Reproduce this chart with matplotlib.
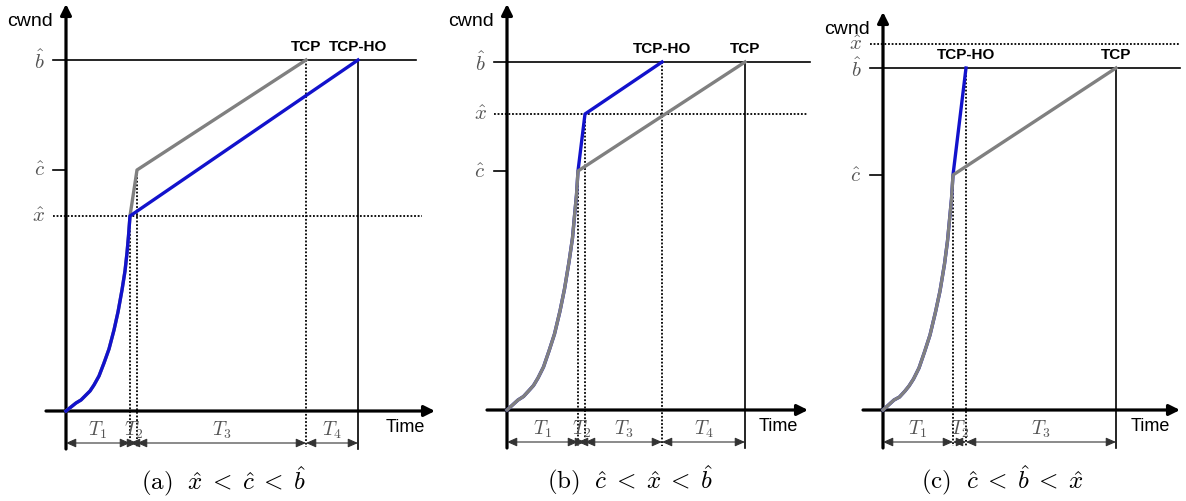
import matplotlib
matplotlib.use('Agg')
import matplotlib.pyplot as plt

plt.rcParams['mathtext.fontset'] = 'cm'
plt.rcParams['font.family'] = ['Liberation Sans', 'DejaVu Sans']

# window sizes (cwnd) and times for the three cases, same units in every panel
# (a) x < c < b
a_b, a_c, a_x = 351, 241, 195
a_ss_t = [0, 5, 10, 15, 20, 24, 28, 33, 38, 43, 48, 52, 56, 59, 61, 62.5, 64]
a_ss_w = [0, 4, 8, 11, 16, 20, 26, 35, 48, 62, 81, 99, 121, 140, 158, 175, 195]
a_tcp_t = [71, 240]
a_tcp_w = [241, 351]
a_ho_t = [292]
a_ho_w = [351]

# (b) c < x < b
b_b, b_c, b_x = 348, 239, 296
b_ss_t = [0, 5.5, 11, 16.5, 22, 26.5, 31, 36.5, 42, 47.5, 53, 57.5, 62, 65.5, 67.5, 69.5, 71]
b_ss_w = [0, 5, 10, 13.5, 19.5, 24.5, 32, 43, 59, 76, 99, 121, 148, 172, 194, 215, 239]
b_tcp_t = [238]
b_tcp_w = [348]
b_ho_t = [78, 155]
b_ho_w = [296, 348]

# (c) c < b < x
c_b, c_c, c_x = 342, 235, 366
c_ss_t = [0, 5.5, 11, 16.5, 22, 26, 30.5, 36, 41.5, 47, 52.5, 57, 61.5, 64.5, 66.5, 68.5, 70]
c_ss_w = [0, 5, 10, 13, 19, 24, 31, 42, 58, 75, 98, 119, 146, 169, 190, 211, 235]
c_tcp_t = [233]
c_tcp_w = [342]
c_ho_t = [83]
c_ho_w = [342]

captions = [r'$\mathrm{(a)}\ \ \hat{x}\;<\;\hat{c}\;<\;\hat{b}$',
            r'$\mathrm{(b)}\ \ \hat{c}\;<\;\hat{x}\;<\;\hat{b}$',
            r'$\mathrm{(c)}\ \ \hat{c}\;<\;\hat{b}\;<\;\hat{x}$']

BLUE = '#1212cc'
GREY = '#808080'
MATHGREY = '#555555'

W, H = 1186, 502
fig = plt.figure(figsize=(W / 100, H / 100), dpi=100)


def panel(x0, y0, bh, ch, xh, ss_t, ss_w, tcp_t, tcp_w, ho_t, ho_w,
          xend, bend, xhend, top, caption, cap_x, ho_on_top):
    # one pixel == one unit, origin of the diagram at (x0, y0)
    ax = fig.add_axes([0, 0, 1, 1])
    ax.set_xlim(-x0, W - x0)
    ax.set_ylim(y0 - H, y0)
    ax.set_axis_off()

    # axes with arrow heads
    ax.annotate('', xy=(xend, 0), xytext=(-20, 0),
                arrowprops=dict(arrowstyle='-|>', lw=2.3, color='black',
                                mutation_scale=16, shrinkA=0, shrinkB=0))
    ax.annotate('', xy=(0, top), xytext=(0, -38),
                arrowprops=dict(arrowstyle='-|>', lw=2.3, color='black',
                                mutation_scale=16, shrinkA=0, shrinkB=0))

    # reference levels
    ax.plot([-13, bend], [bh, bh], color='black', lw=1.2)
    ax.plot([-13, 0], [ch, ch], color='black', lw=1.2)
    ax.plot([-13, xhend], [xh, xh], color='black', lw=1.3, ls=(0, (1, 1)))
    for lev, name in [(bh, r'$\hat{b}$'), (ch, r'$\hat{c}$'), (xh, r'$\hat{x}$')]:
        ax.text(-27, lev, name, fontsize=15, color=MATHGREY, ha='center', va='center')

    # the two window curves
    tcp_x = ss_t + tcp_t
    tcp_y = ss_w + tcp_w
    ho_x = ss_t + ho_t
    ho_y = ss_w + ho_w
    ax.plot(tcp_x, tcp_y, color=GREY, lw=2.4, zorder=4 if not ho_on_top else 3,
            solid_joinstyle='round')
    ax.plot(ho_x, ho_y, color=BLUE, lw=2.4, zorder=4 if ho_on_top else 3,
            solid_joinstyle='round')

    # drop lines from every corner, the last one solid
    corners = [(ss_t[-1], ss_w[-1])] + list(zip(tcp_t, tcp_w)) + list(zip(ho_t, ho_w))
    tmax = max(c[0] for c in corners)
    for t, w in corners:
        if t == tmax:
            ax.plot([t, t], [w, -38], color='black', lw=1.2)
        else:
            ax.plot([t, t], [w, -36], color='black', lw=1.3, ls=(0, (1, 1)))

    # labels for where each flow reaches b
    ax.text(tcp_t[-1], bh + 7, 'TCP', fontsize=11, fontweight='bold',
            ha='center', va='bottom')
    ax.text(ho_t[-1], bh + 7, 'TCP-HO', fontsize=11, fontweight='bold',
            ha='center', va='bottom')
    ax.text(-13, top - 16, 'cwnd', fontsize=14, ha='right', va='center')
    ax.text(xend - 49, -16, 'Time', fontsize=13, ha='left', va='center')

    # interval brackets T1, T2, ...
    bounds = sorted(set([0] + [c[0] for c in corners]))
    for i in range(len(bounds) - 1):
        left, right = bounds[i], bounds[i + 1]
        ax.annotate('', xy=(right, -32), xytext=(left, -32),
                    arrowprops=dict(arrowstyle='<|-|>,head_length=0.5,head_width=0.22',
                                    lw=0.8, color='#333333', mutation_scale=12,
                                    shrinkA=0, shrinkB=0))
        ax.text((left + right) / 2, -18, r'$T_{%d}$' % (i + 1), fontsize=14,
                color=MATHGREY, ha='center', va='center')

    ax.text(cap_x, -70, caption, fontsize=18, ha='center', va='center')


panel(66, 412, a_b, a_c, a_x, a_ss_t, a_ss_w, a_tcp_t, a_tcp_w, a_ho_t, a_ho_w,
      369, 350, 356, 407, captions[0], 157, True)
panel(507, 411, b_b, b_c, b_x, b_ss_t, b_ss_w, b_tcp_t, b_tcp_w, b_ho_t, b_ho_w,
      301, 303, 301, 406, captions[1], 123, False)
panel(883, 411, c_b, c_c, c_x, c_ss_t, c_ss_w, c_tcp_t, c_tcp_w, c_ho_t, c_ho_w,
      297, 297, 297, 398, captions[2], 119, False)

fig.savefig('out.png', dpi=100)
